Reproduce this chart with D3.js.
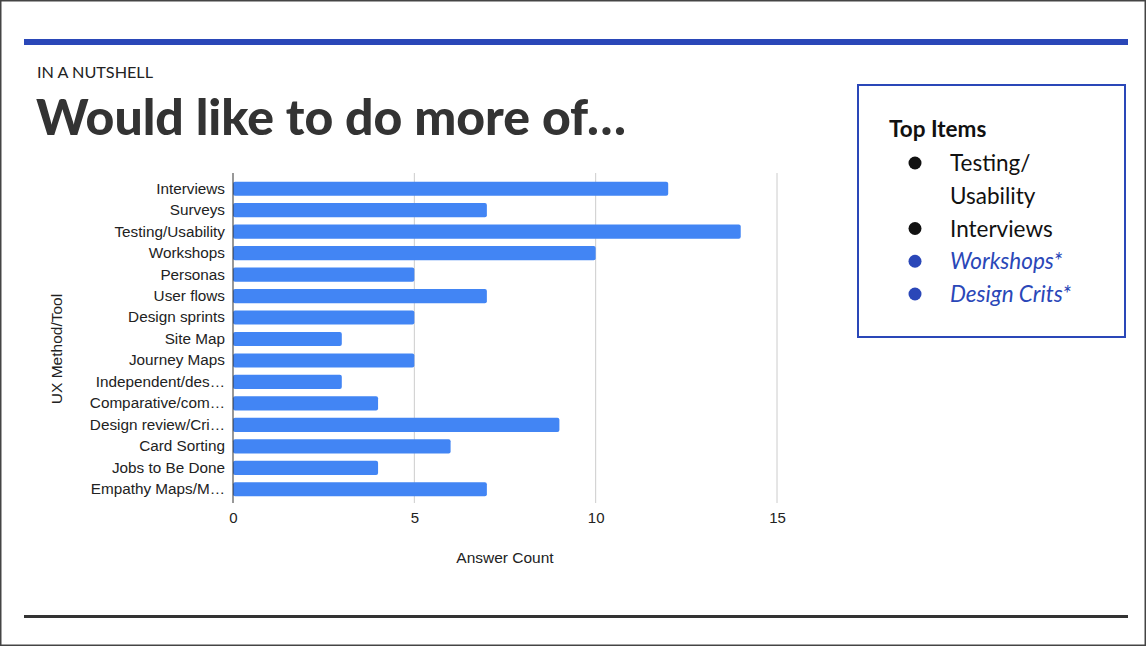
<!DOCTYPE html>
<html>
<head>
<meta charset="utf-8">
<script src="https://cdn.jsdelivr.net/npm/d3@7"></script>
<style>
  html, body { margin: 0; padding: 0; background: #fff; }
  svg { display: block; }
</style>
</head>
<body>
<svg id="slide" width="1146" height="646"></svg>
<script>
var categories = ["Interviews", "Surveys", "Testing/Usability", "Workshops", "Personas",
  "User flows", "Design sprints", "Site Map", "Journey Maps", "Independent/des\u2026",
  "Comparative/com\u2026", "Design review/Cri\u2026", "Card Sorting", "Jobs to Be Done",
  "Empathy Maps/M\u2026"];
var answerCounts = [12, 7, 14, 10, 5, 7, 5, 3, 5, 3, 4, 9, 6, 4, 7];
var xTicks = [0, 5, 10, 15];
var topItems = ["Testing/", "Usability", "Interviews", "Workshops*", "Design Crits*"];
var topBullets = [true, false, true, true, true];
var topHighlight = [false, false, false, true, true];

var blue = "#2a47b8", barBlue = "#4285f4";
var axisFont = "'Liberation Sans', Arial, sans-serif";
var svg = d3.select("#slide");

// outer frame
svg.append("rect").attr("x", 0.5).attr("y", 0.5).attr("width", 1145).attr("height", 645)
  .attr("fill", "#fff").attr("stroke", "#444").attr("stroke-width", 2);

// top & bottom rules
svg.append("rect").attr("x", 24).attr("y", 39).attr("width", 1104).attr("height", 6).attr("fill", blue);
svg.append("rect").attr("x", 24).attr("y", 615).attr("width", 1104).attr("height", 3).attr("fill", "#333");

svg.append("text").attr("x", 37).attr("y", 78)
  .attr("textLength", 116).attr("lengthAdjust", "spacingAndGlyphs")
  .style("font-family", "Lato, 'Noto Sans', sans-serif").style("font-size", "14.5px").attr("fill", "#222")
  .text("IN A NUTSHELL");

svg.append("text").attr("x", 36).attr("y", 135)
  .attr("textLength", 590).attr("lengthAdjust", "spacingAndGlyphs")
  .style("font-family", "Lato, 'Noto Sans', sans-serif").style("font-weight", "900").style("font-size", "50px")
  .attr("fill", "#333")
  .text("Would like to do more of\u2026");

// chart
var x = d3.scaleLinear().domain([0, 15]).range([233, 777]);
var y = d3.scaleBand().domain(categories).range([178, 500]).paddingInner(0.34).paddingOuter(0.17);

var g = svg.append("g").style("font-family", axisFont);

g.selectAll(".grid").data(xTicks.filter(function(d){ return d > 0; }))
  .enter().append("line").attr("class", "grid")
  .attr("x1", function(d){ return x(d); }).attr("x2", function(d){ return x(d); })
  .attr("y1", 173).attr("y2", 503).attr("stroke", "#ccc").attr("stroke-width", 1);

g.selectAll(".bar").data(answerCounts)
  .enter().append("rect").attr("class", "bar")
  .attr("x", x(0))
  .attr("y", function(d, i){ return y(categories[i]); })
  .attr("width", function(d){ return x(d) - x(0); })
  .attr("height", y.bandwidth())
  .attr("rx", 2)
  .attr("fill", barBlue);

g.append("line").attr("x1", x(0)).attr("x2", x(0)).attr("y1", 173).attr("y2", 503)
  .attr("stroke", "#333").attr("stroke-width", 1);

var yAxis = g.append("g").attr("transform", "translate(" + (x(0) - 8) + ",0)")
  .call(d3.axisLeft(y).tickSize(0).tickPadding(0));
yAxis.select(".domain").remove();
yAxis.selectAll("text").style("font-size", "15.3px").attr("fill", "#222").style("font-family", axisFont);

var xAxis = g.append("g").attr("transform", "translate(0,503)")
  .call(d3.axisBottom(x).tickValues(xTicks).tickSize(0).tickPadding(9));
xAxis.select(".domain").remove();
xAxis.selectAll("text").style("font-size", "15px").attr("fill", "#222").style("font-family", axisFont);

g.append("text").attr("x", (x(0) + x(15)) / 2).attr("y", 563).attr("text-anchor", "middle")
  .style("font-size", "15.5px").attr("fill", "#222").text("Answer Count");

g.append("text").attr("transform", "translate(62,349) rotate(-90)").attr("text-anchor", "middle")
  .style("font-size", "15.5px").attr("fill", "#222").text("UX Method/Tool");

// Top items box
var box = svg.append("g").style("font-family", "Lato, 'Noto Sans', sans-serif");
box.append("rect").attr("x", 858).attr("y", 85).attr("width", 267).attr("height", 252)
  .attr("fill", "none").attr("stroke", blue).attr("stroke-width", 2);
box.append("text").attr("x", 889).attr("y", 137).style("font-size", "22.5px").style("font-weight", "700")
  .attr("fill", "#111").text("Top Items");

var rowY = d3.scalePoint().domain(d3.range(topItems.length)).range([171, 302]);
topItems.forEach(function(t, i) {
  var col = topHighlight[i] ? blue : "#111";
  if (topBullets[i]) {
    box.append("circle").attr("cx", 915).attr("cy", rowY(i) - 8).attr("r", 6.5).attr("fill", col);
  }
  box.append("text").attr("x", 950).attr("y", rowY(i)).style("font-size", "22.5px")
    .style("font-style", topHighlight[i] ? "italic" : "normal")
    .attr("fill", col).text(t);
});
</script>
</body>
</html>
